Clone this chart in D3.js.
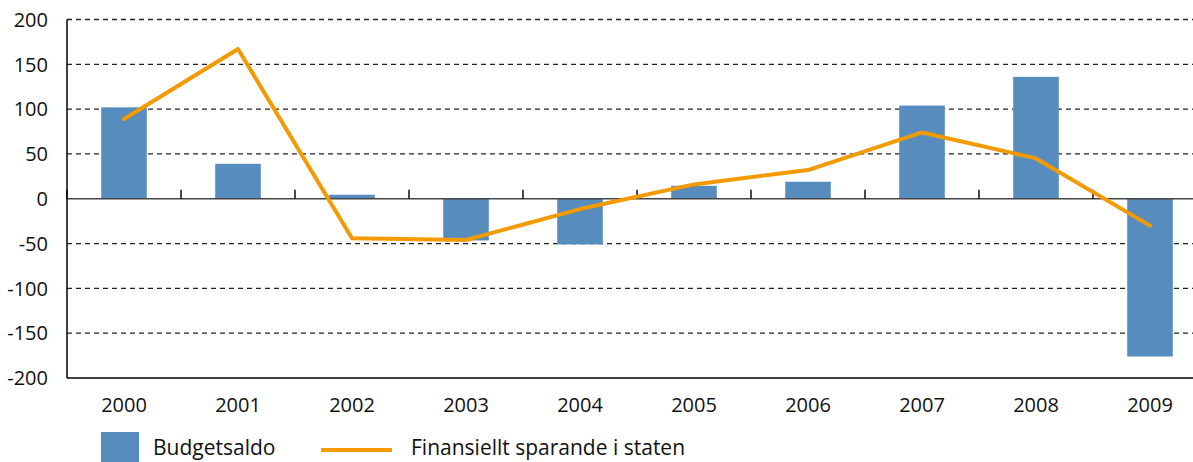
<!DOCTYPE html>
<html>
<head>
<meta charset="utf-8">
<script src="https://cdn.jsdelivr.net/npm/d3@7"></script>
<style>
  body { margin: 0; background: #fff; }
  svg { display: block; font-family: "Open Sans", "Noto Sans", sans-serif; }
  .grid line { stroke: #222; stroke-dasharray: 5 4; stroke-width: 1.3; }
  text { fill: #111; }
</style>
</head>
<body>
<div class="graph"></div>
<script>
// data
const years = ["2000", "2001", "2002", "2003", "2004", "2005", "2006", "2007", "2008", "2009"];
const budgetsaldo = [102, 39, 4.5, -46.5, -51, 14.5, 19, 104, 136, -176];
const finansielltSparande = [89, 167, -44, -46, -11.5, 16, 32, 74, 45, -30];
const yTicks = [200, 150, 100, 50, 0, -50, -100, -150, -200];

const chartWidth = 1193, chartHeight = 462;
const plotLeft = 67, plotTop = 19.5, plotBottom = 378;
const step = 114;

const svg = d3.select(".graph").append("svg")
    .attr("width", chartWidth)
    .attr("height", chartHeight);

const x = d3.scaleBand()
    .domain(years)
    .range([plotLeft, plotLeft + step * years.length])
    .paddingInner(0.6)
    .paddingOuter(0.3);

const y = d3.scaleLinear()
    .domain([-200, 200])
    .range([plotBottom, plotTop]);

//Grid lines
svg.append("g")
    .attr("class", "grid")
    .selectAll("line")
    .data(yTicks.filter(d => d !== 0 && d !== -200))
    .join("line")
    .attr("x1", plotLeft)
    .attr("x2", chartWidth)
    .attr("y1", d => y(d))
    .attr("y2", d => y(d));

//Y labels
svg.append("g")
    .selectAll("text")
    .data(yTicks)
    .join("text")
    .attr("x", 48)
    .attr("y", d => y(d))
    .attr("dy", "0.36em")
    .attr("text-anchor", "end")
    .attr("font-size", 20)
    .text(d => d);

//Bars
svg.append("g")
    .selectAll("rect")
    .data(budgetsaldo)
    .join("rect")
    .attr("x", (d, i) => x(years[i]))
    .attr("width", x.bandwidth())
    .attr("y", d => y(Math.max(0, d)))
    .attr("height", d => Math.abs(y(d) - y(0)))
    .attr("fill", "#578dbe");

//Zero line and ticks
svg.append("line")
    .attr("x1", plotLeft).attr("x2", chartWidth)
    .attr("y1", y(0)).attr("y2", y(0))
    .attr("stroke", "#444").attr("stroke-width", 1.5);

svg.append("g")
    .selectAll("line")
    .data(d3.range(years.length + 1))
    .join("line")
    .attr("x1", i => plotLeft + i * x.step())
    .attr("x2", i => plotLeft + i * x.step())
    .attr("y1", y(0) - 9)
    .attr("y2", y(0))
    .attr("stroke", "#111").attr("stroke-width", 1.5);

//Axes frame
svg.append("line")
    .attr("x1", plotLeft).attr("x2", plotLeft)
    .attr("y1", plotTop).attr("y2", plotBottom)
    .attr("stroke", "#000").attr("stroke-width", 1.5);
svg.append("line")
    .attr("x1", plotLeft).attr("x2", chartWidth)
    .attr("y1", plotBottom).attr("y2", plotBottom)
    .attr("stroke", "#000").attr("stroke-width", 1.5);

//Line
const line = d3.line()
    .x((d, i) => x(years[i]) + x.bandwidth() / 2)
    .y(d => y(d));

svg.append("path")
    .datum(finansielltSparande)
    .attr("d", line)
    .attr("fill", "none")
    .attr("stroke", "#f39a00")
    .attr("stroke-width", 4)
    .attr("stroke-linejoin", "round")
    .attr("stroke-linecap", "round");

//X labels
svg.append("g")
    .selectAll("text")
    .data(years)
    .join("text")
    .attr("x", d => x(d) + x.bandwidth() / 2)
    .attr("y", 412)
    .attr("text-anchor", "middle")
    .attr("font-size", 20)
    .text(d => d);

//Legend
svg.append("rect")
    .attr("x", 101).attr("y", 432)
    .attr("width", 38).attr("height", 30)
    .attr("fill", "#578dbe");
svg.append("text")
    .attr("x", 153).attr("y", 455)
    .attr("font-size", 21)
    .text("Budgetsaldo");
svg.append("line")
    .attr("x1", 321).attr("x2", 392)
    .attr("y1", 450).attr("y2", 450)
    .attr("stroke", "#f39a00").attr("stroke-width", 4);
svg.append("text")
    .attr("x", 411).attr("y", 455)
    .attr("font-size", 21)
    .text("Finansiellt sparande i staten");
</script>
</body>
</html>
